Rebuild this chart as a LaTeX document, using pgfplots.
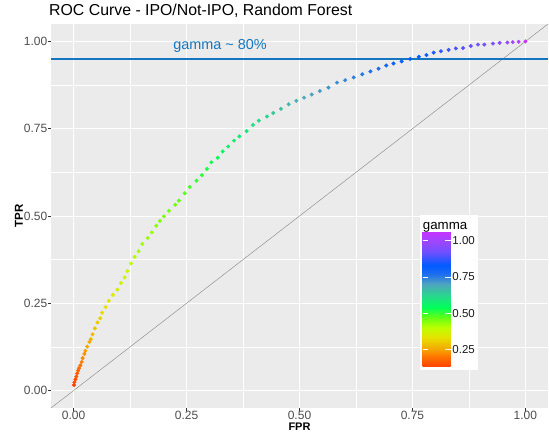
\documentclass[border=0pt]{standalone}
\usepackage{pgfplots}
\pgfplotsset{compat=1.18}
\usepackage{fontspec}
\setmainfont{Liberation Sans}
\definecolor{panelbg}{RGB}{235,235,235}
\definecolor{ticklab}{RGB}{77,77,77}
\definecolor{hblue}{RGB}{20,118,190}
\pgfplotsset{colormap={gam}{
  rgb255(13pt)=(255,64,0)
  rgb255(20pt)=(255,115,0)
  rgb255(25pt)=(245,165,0)
  rgb255(33pt)=(230,225,0)
  rgb255(40pt)=(190,255,0)
  rgb255(47pt)=(100,255,20)
  rgb255(54pt)=(0,255,90)
  rgb255(62pt)=(40,215,140)
  rgb255(70pt)=(80,165,190)
  rgb255(77pt)=(30,110,240)
  rgb255(83pt)=(0,90,255)
  rgb255(92pt)=(110,80,255)
  rgb255(100pt)=(160,70,255)
  rgb255(106.7pt)=(200,50,255)
}}

% ROC points: FPR, TPR, gamma
\pgfplotstableread{
x y g
0.001 0.016 0.13
0.002 0.024 0.14
0.004 0.032 0.15
0.006 0.040 0.16
0.008 0.049 0.17
0.010 0.057 0.18
0.012 0.064 0.19
0.015 0.072 0.20
0.018 0.082 0.21
0.020 0.093 0.22
0.024 0.105 0.23
0.026 0.114 0.24
0.030 0.126 0.25
0.035 0.139 0.26
0.038 0.147 0.27
0.042 0.161 0.28
0.047 0.178 0.29
0.053 0.195 0.30
0.059 0.207 0.31
0.063 0.223 0.32
0.071 0.239 0.33
0.078 0.257 0.34
0.087 0.274 0.35
0.097 0.289 0.36
0.105 0.308 0.37
0.113 0.324 0.38
0.119 0.342 0.39
0.127 0.364 0.40
0.135 0.383 0.41
0.144 0.399 0.42
0.152 0.420 0.425
0.164 0.437 0.43
0.173 0.453 0.435
0.183 0.472 0.44
0.191 0.486 0.445
0.200 0.499 0.45
0.211 0.515 0.455
0.225 0.532 0.46
0.233 0.544 0.47
0.246 0.565 0.48
0.257 0.583 0.49
0.272 0.601 0.50
0.284 0.617 0.51
0.295 0.635 0.52
0.305 0.654 0.53
0.319 0.667 0.54
0.330 0.685 0.55
0.342 0.699 0.56
0.355 0.716 0.57
0.367 0.728 0.58
0.383 0.743 0.59
0.397 0.761 0.60
0.410 0.773 0.61
0.428 0.785 0.625
0.442 0.795 0.64
0.459 0.807 0.655
0.476 0.820 0.67
0.493 0.830 0.68
0.510 0.839 0.69
0.527 0.848 0.70
0.545 0.858 0.71
0.564 0.868 0.72
0.583 0.882 0.73
0.601 0.889 0.74
0.620 0.897 0.75
0.639 0.906 0.76
0.657 0.914 0.77
0.675 0.922 0.78
0.692 0.931 0.79
0.708 0.937 0.80
0.726 0.943 0.81
0.745 0.950 0.82
0.764 0.956 0.83
0.781 0.961 0.84
0.797 0.968 0.86
0.813 0.972 0.87
0.830 0.976 0.88
0.846 0.980 0.89
0.862 0.981 0.90
0.879 0.987 0.91
0.895 0.991 0.92
0.909 0.991 0.93
0.928 0.994 0.94
0.943 0.996 0.96
0.960 0.997 0.98
0.972 0.998 1.00
0.985 0.999 1.02
1.000 1.000 1.067
}\rocdata

\begin{document}
\begin{tikzpicture}
\useasboundingbox (0,0) rectangle (549pt,432pt);
\begin{axis}[
  at={(51pt,24pt)}, anchor=south west,
  scale only axis, width=497pt, height=384pt,
  xmin=-0.05, xmax=1.05, ymin=-0.05, ymax=1.05,
  axis background/.style={fill=panelbg},
  axis line style={draw=none},
  xtick={0,0.25,0.5,0.75,1}, ytick={0,0.25,0.5,0.75,1},
  minor xtick={0.125,0.375,0.625,0.875},
  minor ytick={0.125,0.375,0.625,0.875},
  grid=both,
  major grid style={white, line width=1.0pt},
  minor grid style={white, line width=0.5pt},
  tick align=outside, tick pos=left,
  major tick length=2.7pt, minor tick length=0pt,
  tick style={color=black!80, line width=0.5pt},
  /pgf/number format/fixed, /pgf/number format/fixed zerofill,
  /pgf/number format/precision=2, /pgf/number format/assume math mode=true,
  ticklabel style={font=\fontsize{12}{14}\selectfont, text=ticklab},
  xticklabel style={inner ysep=0pt},
  yticklabel style={inner xsep=0.8pt},
  title={ROC Curve - IPO/Not-IPO, Random Forest},
  title style={at={(axis description cs:-0.004,1.0078)}, anchor=base west,
    font=\fontsize{15.85}{18}\selectfont, inner sep=0pt},
  xlabel={FPR}, ylabel={TPR},
  xlabel style={at={(axis description cs:0.5,-0.0478)}, anchor=center,
    font=\bfseries\fontsize{11}{13}\selectfont, inner sep=0pt},
  ylabel style={at={(axis description cs:-0.0644,0.5)}, anchor=center,
    font=\bfseries\fontsize{11.5}{13}\selectfont, inner sep=0pt},
  colormap name=gam, point meta min=0.13, point meta max=1.067,
  colorbar, colorbar/width=28pt,
  colorbar style={
    at={(414.2pt,65.3pt)}, anchor=south west,
    scale only axis, width=28pt, height=135.7pt,
    ytick={0.25,0.5,0.75,1},
    tick pos=both, yticklabel pos=right,
    tick align=inside, major tick length=5.5pt,
    tick style={white, line width=0.5pt},
    axis line style={draw=none},
    /pgf/number format/fixed, /pgf/number format/fixed zerofill,
    /pgf/number format/precision=2, /pgf/number format/assume math mode=true,
    yticklabel style={font=\fontsize{11.5}{13}\selectfont, text=black!90, inner xsep=1.5pt},
  },
]
\fill[white] ([xshift=369pt,yshift=38pt]rel axis cs:0,0) rectangle ++(58pt,155pt);
\node[anchor=base west, inner sep=0pt, font=\fontsize{13.3}{15}\selectfont]
  at ([xshift=371.7pt,yshift=179pt]rel axis cs:0,0) {gamma};
\addplot[black!45, line width=0.45pt] coordinates {(-0.05,-0.05) (1.05,1.05)};
\addplot[hblue, line width=2.3pt] coordinates {(-0.05,0.95) (1.05,0.95)};
\addplot[scatter, only marks, mark=*, mark size=1.8pt,
  scatter src=explicit,
  scatter/use mapped color={draw=mapped color, fill=mapped color}]
  table[x=x, y=y, meta=g] {\rocdata};
\node[text=hblue, font=\fontsize{14.4}{16}\selectfont] at (axis cs:0.324,0.987) {gamma \textasciitilde{} 80\%};
\end{axis}
\end{tikzpicture}
\end{document}
